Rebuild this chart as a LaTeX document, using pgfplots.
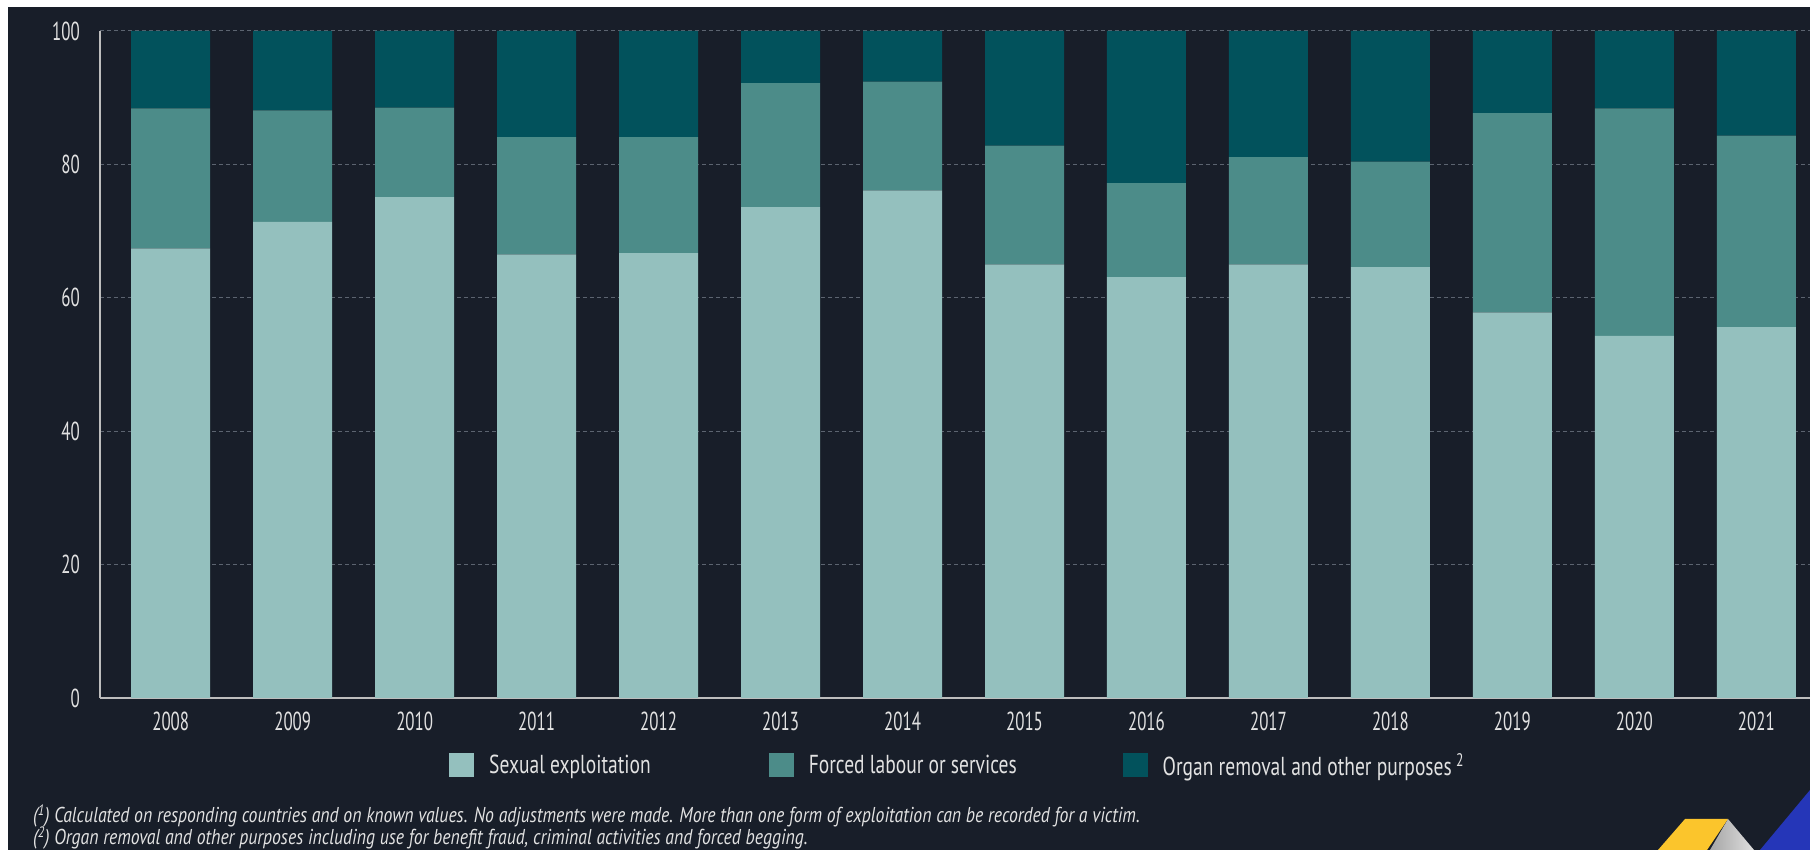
\documentclass[border=0pt]{standalone}
\usepackage{fontspec}
\setmainfont[FakeStretch=0.65]{PT Sans}
\newfontfamily\legfont[FakeStretch=0.75]{PT Sans}
\newfontfamily\notefont[FakeStretch=0.825]{PT Sans}
\usepackage{pgfplots}
\pgfplotsset{compat=1.18}
\definecolor{bg}{HTML}{181E29}
\definecolor{sexc}{HTML}{94C0BE}
\definecolor{forc}{HTML}{4C8C89}
\definecolor{orgc}{HTML}{02525C}
\definecolor{gridc}{HTML}{5C6470}
\definecolor{axc}{HTML}{BDBDBD}
\definecolor{txt}{HTML}{E2E2E2}
\definecolor{logoy}{HTML}{FBC52C}
\definecolor{logob}{HTML}{2536B8}
\pgfplotsset{sqlegend/.style={legend image code/.code={\fill[##1] (0pt,-12pt) rectangle (25pt,12pt);}}}
\begin{document}
\begin{tikzpicture}[x=1pt,y=1pt]
\useasboundingbox (0,0) rectangle (1810,850);
\fill[white] (0,0) rectangle (1810,850);
\fill[bg] (8,0) rectangle (1810,843);
% logo
\fill[logoy] (1658,0) -- (1685,31) -- (1728,31) -- (1707,0) -- cycle;
\shade[left color=gray!70, right color=gray!25] (1728,31) -- (1754,0) -- (1710,0) -- cycle;
\fill[logob] (1760,0) -- (1810,60) -- (1810,0) -- cycle;
\begin{axis}[
  at={(100pt,152pt)}, anchor=south west,
  scale only axis, width=1710pt, height=667pt,
  xmin=-0.58, xmax=13.44, ymin=0, ymax=100,
  ybar stacked, bar width=79pt,
  xtick={0,...,13},
  xticklabels={2008,2009,2010,2011,2012,2013,2014,2015,2016,2017,2018,2019,2020,2021},
  ytick={0,20,40,60,80,100},
  /pgf/number format/assume math mode=true,
  axis lines*=left,
  axis line style={draw=axc, line width=1.6pt},
  major tick length=0pt,
  tick style={draw=none},
  ymajorgrids,
  major grid style={gridc, dash pattern=on 4pt off 3pt, line width=1pt},
  ticklabel style={text=txt, font=\fontsize{26}{26}\selectfont, inner sep=0pt},
  yticklabel style={anchor=east, xshift=-20pt},
  xticklabel style={anchor=north, yshift=-14pt},
  legend columns=3,
  legend style={at={(0.2041,-0.101)}, anchor=west, draw=none, fill=none, inner sep=0pt,
    nodes={inner sep=0pt, text=txt, font=\legfont\fontsize{26}{26}\selectfont, anchor=west},
    /tikz/every odd column/.append style={column sep=15pt},
    /tikz/column 2/.style={column sep=118pt},
    /tikz/column 4/.style={column sep=106pt}},
]
\addplot[fill=sexc, draw=none, sqlegend] coordinates {
(0,67.4) (1,71.4) (2,75.1) (3,66.5) (4,66.7) (5,73.6) (6,76.1)
(7,65.0) (8,63.1) (9,65.0) (10,64.6) (11,57.8) (12,54.3) (13,55.6)};
\addplot[fill=forc, draw=none, sqlegend] coordinates {
(0,21.0) (1,16.7) (2,13.4) (3,17.6) (4,17.4) (5,18.6) (6,16.3)
(7,17.8) (8,14.1) (9,16.1) (10,15.8) (11,29.9) (12,34.1) (13,28.7)};
\addplot[fill=orgc, draw=none, sqlegend] coordinates {
(0,11.6) (1,11.9) (2,11.5) (3,15.9) (4,15.9) (5,7.8) (6,7.6)
(7,17.2) (8,22.8) (9,18.9) (10,19.6) (11,12.3) (12,11.6) (13,15.7)};
\legend{Sexual exploitation, Forced labour or services, Organ removal and other purposes\,\textsuperscript{2}}
\end{axis}
\node[anchor=base west, inner sep=0pt, text=txt, font=\notefont\itshape\fontsize{21.5}{22}\selectfont] at (33,27)
  {(\textsuperscript{1}) Calculated on responding countries and on known values. No adjustments were made. More than one form of exploitation can be recorded for a victim.};
\node[anchor=base west, inner sep=0pt, text=txt, font=\notefont\itshape\fontsize{21.5}{22}\selectfont] at (33,5)
  {(\textsuperscript{2}) Organ removal and other purposes including use for benefit fraud, criminal activities and forced begging.};
\end{tikzpicture}
\end{document}
